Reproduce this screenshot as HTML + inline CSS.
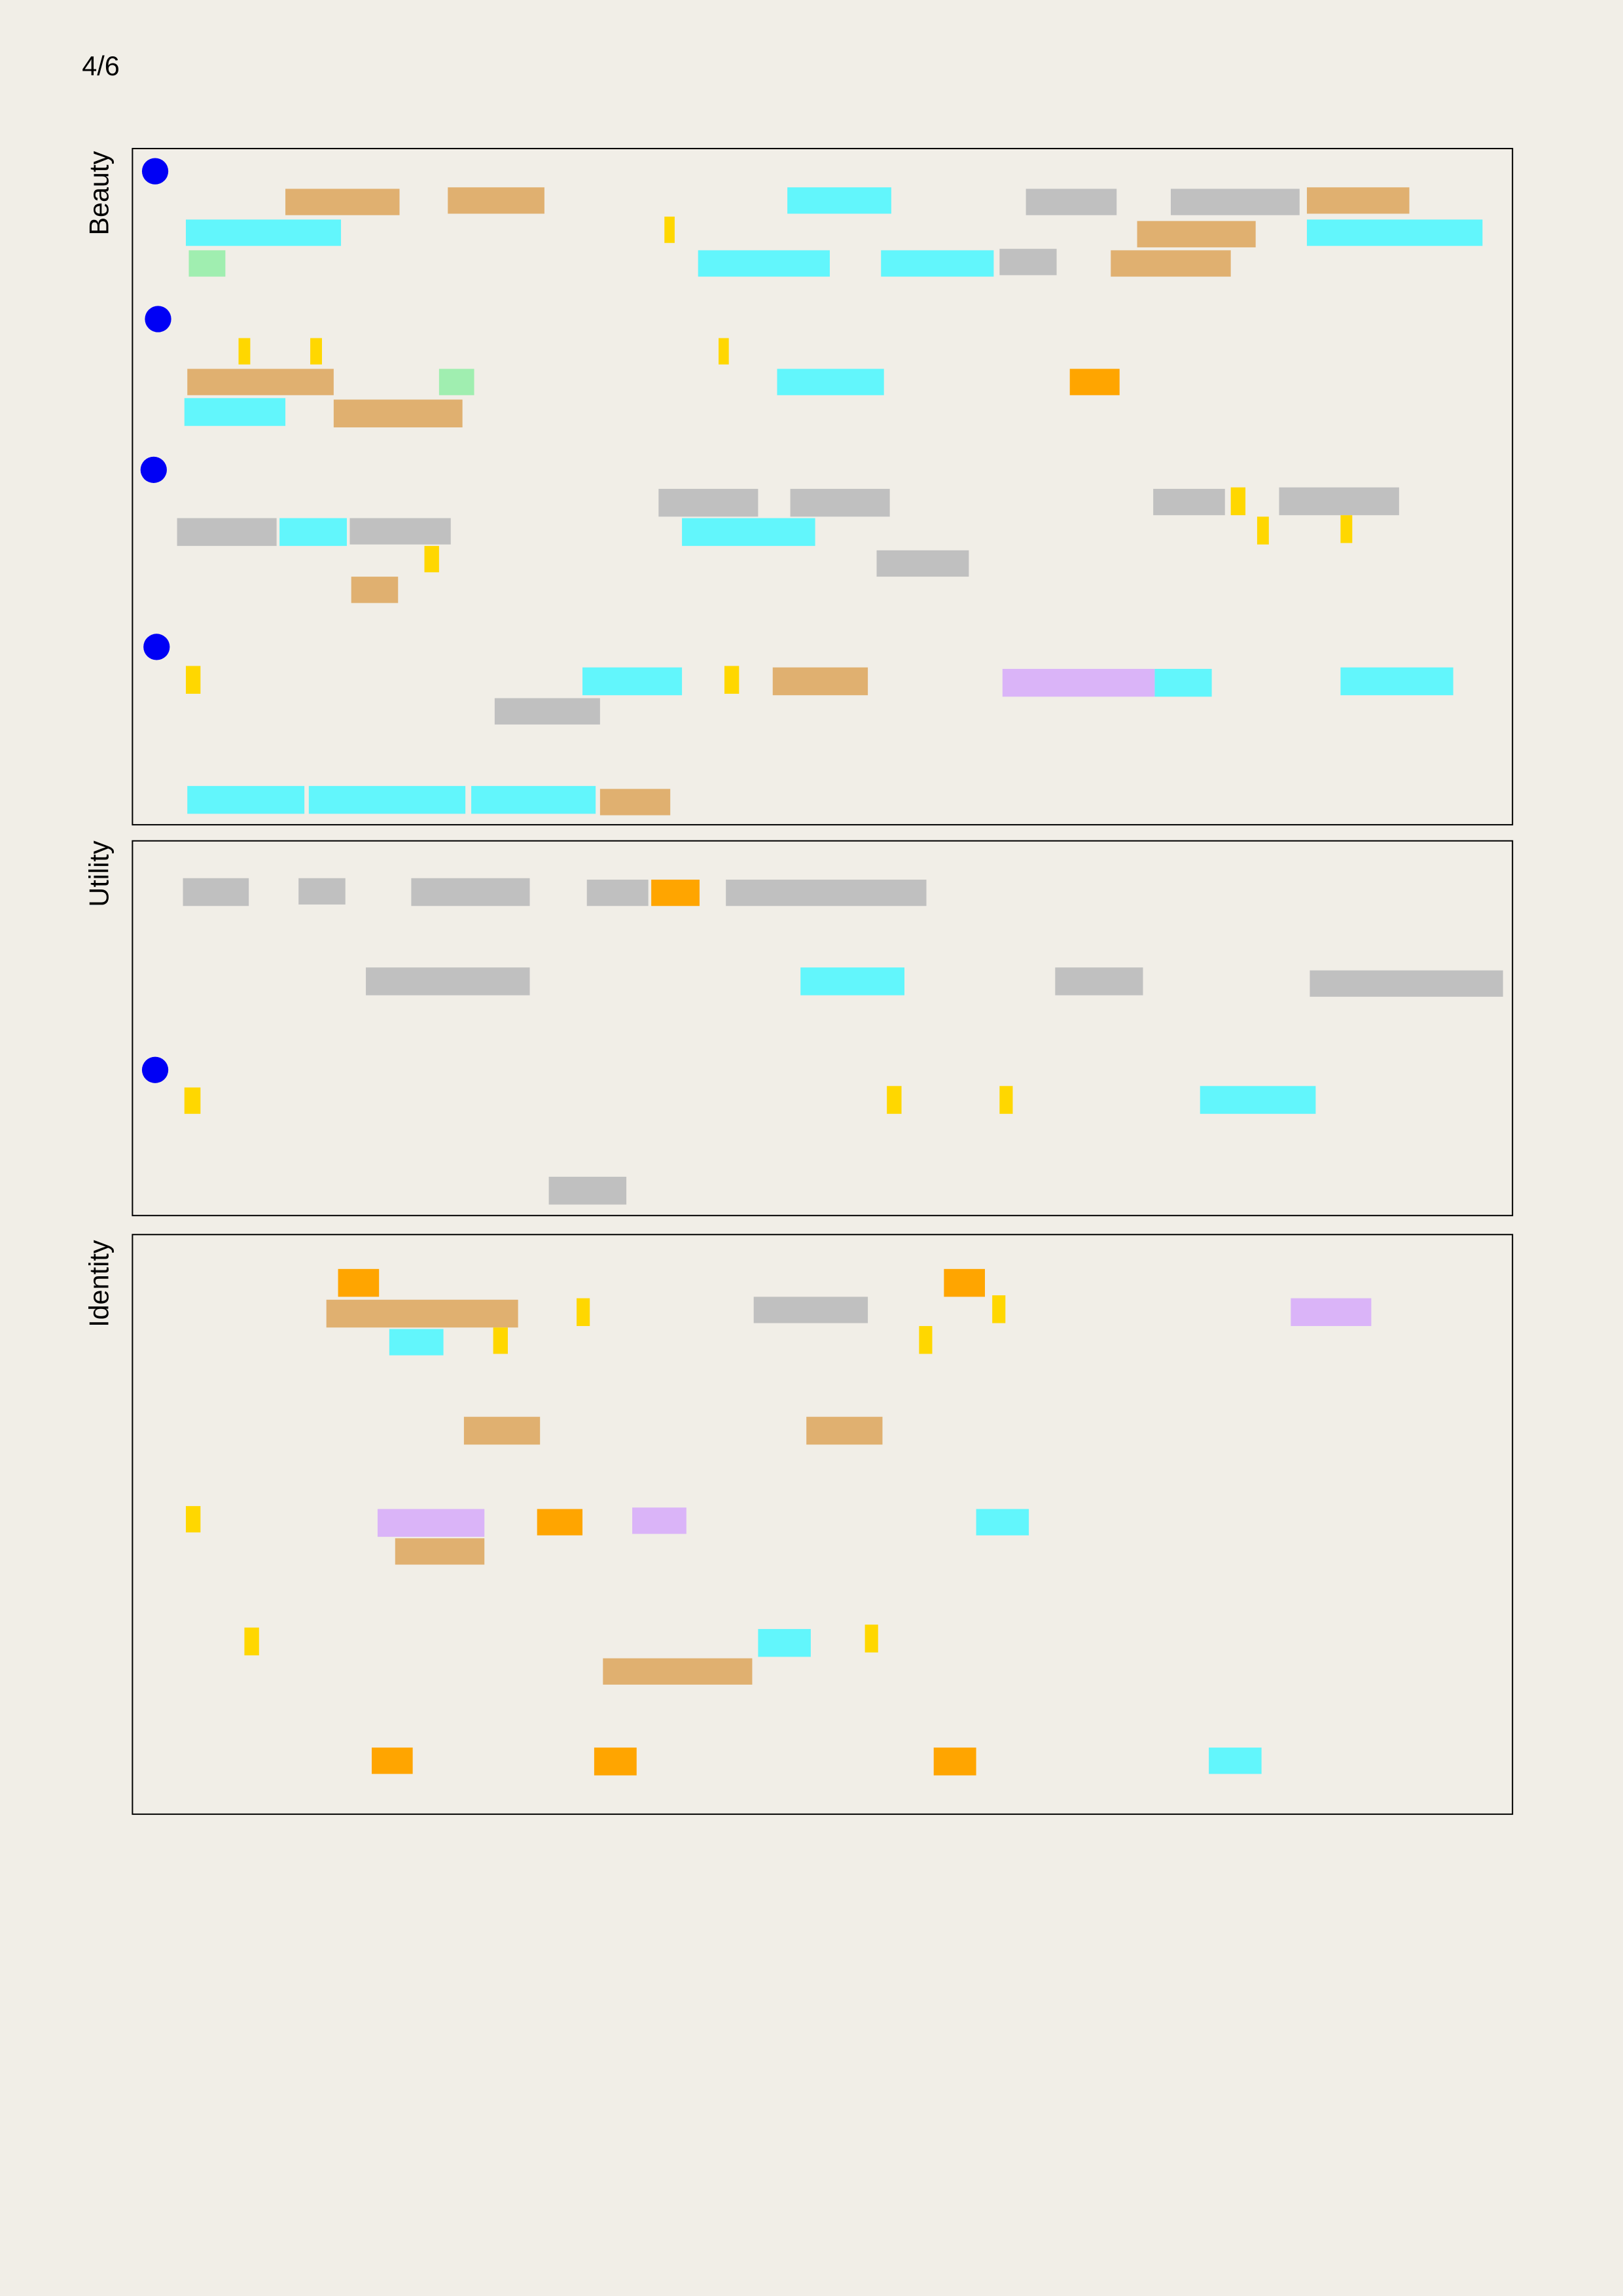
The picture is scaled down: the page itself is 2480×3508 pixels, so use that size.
<!DOCTYPE html>
<html><head><meta charset="utf-8"><style>
html,body{margin:0;padding:0;background:#f1eee7;}
svg{display:block;}
text{font-family:"Liberation Sans",sans-serif;fill:#000;}
</style></head><body>
<svg width="2480" height="3508" viewBox="0 0 1109 1568.7" preserveAspectRatio="none" xmlns="http://www.w3.org/2000/svg">
<rect x="0" y="0" width="1109" height="1569" fill="#f1eee7"/>
<text x="56" y="51.5" font-size="18.5">4/6</text>
<text transform="translate(74,132) rotate(-90)" text-anchor="middle" font-size="18.5">Beauty</text>
<text transform="translate(74,597) rotate(-90)" text-anchor="middle" font-size="18.5">Utility</text>
<text transform="translate(74,877) rotate(-90)" text-anchor="middle" font-size="18.5">Identity</text>
<g fill="none" stroke="#000" stroke-width="0.9">
<rect x="90.5" y="101.5" width="943" height="462"/>
<rect x="90.5" y="574.5" width="943" height="256"/>
<rect x="90.5" y="843.5" width="943" height="396"/>
</g>
<g fill="#0000f5">
<circle cx="106" cy="117" r="9"/><circle cx="108" cy="218" r="9"/><circle cx="105" cy="321" r="9"/><circle cx="107" cy="442" r="9"/><circle cx="106" cy="731" r="9"/>
</g>
<g fill="#e0b070">
<rect x="195" y="129" width="78" height="18"/><rect x="306" y="128" width="66" height="18"/><rect x="893" y="128" width="70" height="18"/><rect x="777" y="151" width="81" height="18"/><rect x="759" y="171" width="82" height="18"/><rect x="128" y="252" width="100" height="18"/><rect x="228" y="273" width="88" height="19"/><rect x="240" y="394" width="32" height="18"/><rect x="528" y="456" width="65" height="19"/><rect x="410" y="539" width="48" height="18"/>
<rect x="223" y="888" width="131" height="19"/><rect x="317" y="968" width="52" height="19"/><rect x="551" y="968" width="52" height="19"/><rect x="270" y="1051" width="61" height="18"/><rect x="412" y="1133" width="102" height="18"/>
</g>
<g fill="#62f6fc">
<rect x="538" y="128" width="71" height="18"/><rect x="127" y="150" width="106" height="18"/><rect x="893" y="150" width="120" height="18"/><rect x="477" y="171" width="90" height="18"/><rect x="602" y="171" width="77" height="18"/><rect x="531" y="252" width="73" height="18"/><rect x="126" y="272" width="69" height="19"/><rect x="191" y="354" width="46" height="19"/><rect x="466" y="354" width="91" height="19"/><rect x="398" y="456" width="68" height="19"/><rect x="789" y="457" width="39" height="19"/><rect x="916" y="456" width="77" height="19"/><rect x="128" y="537" width="80" height="19"/><rect x="211" y="537" width="107" height="19"/><rect x="322" y="537" width="85" height="19"/>
<rect x="547" y="661" width="71" height="19"/><rect x="820" y="742" width="79" height="19"/>
<rect x="266" y="908" width="37" height="18"/><rect x="667" y="1031" width="36" height="18"/><rect x="518" y="1113" width="36" height="19"/><rect x="826" y="1194" width="36" height="18"/>
</g>
<g fill="#c0c0c0">
<rect x="701" y="129" width="62" height="18"/><rect x="800" y="129" width="88" height="18"/><rect x="683" y="170" width="39" height="18"/><rect x="450" y="334" width="68" height="19"/><rect x="540" y="334" width="68" height="19"/><rect x="788" y="334" width="49" height="18"/><rect x="874" y="333" width="82" height="19"/><rect x="121" y="354" width="68" height="19"/><rect x="239" y="354" width="69" height="18"/><rect x="599" y="376" width="63" height="18"/><rect x="338" y="477" width="72" height="18"/>
<rect x="125" y="600" width="45" height="19"/><rect x="204" y="600" width="32" height="18"/><rect x="281" y="600" width="81" height="19"/><rect x="401" y="601" width="42" height="18"/><rect x="496" y="601" width="137" height="18"/><rect x="250" y="661" width="112" height="19"/><rect x="721" y="661" width="60" height="19"/><rect x="895" y="663" width="132" height="18"/><rect x="375" y="804" width="53" height="19"/>
<rect x="515" y="886" width="78" height="18"/>
</g>
<g fill="#a0eeb0"><rect x="129" y="171" width="25" height="18"/><rect x="300" y="252" width="24" height="18"/></g>
<g fill="#ffa500">
<rect x="731" y="252" width="34" height="18"/><rect x="445" y="601" width="33" height="18"/><rect x="231" y="867" width="28" height="19"/><rect x="645" y="867" width="28" height="19"/><rect x="367" y="1031" width="31" height="18"/><rect x="254" y="1194" width="28" height="18"/><rect x="406" y="1194" width="29" height="19"/><rect x="638" y="1194" width="29" height="19"/>
</g>
<g fill="#dab4f8">
<rect x="685" y="457" width="104" height="19"/><rect x="882" y="887" width="55" height="19"/><rect x="258" y="1031" width="73" height="19"/><rect x="432" y="1030" width="37" height="18"/>
</g>
<g fill="#ffd700">
<rect x="454" y="148" width="7" height="18"/><rect x="163" y="231" width="8" height="18"/><rect x="212" y="231" width="8" height="18"/><rect x="491" y="231" width="7" height="18"/><rect x="841" y="333" width="10" height="19"/><rect x="859" y="353" width="8" height="19"/><rect x="916" y="352" width="8" height="19"/><rect x="290" y="373" width="10" height="18"/><rect x="127" y="455" width="10" height="19"/><rect x="495" y="455" width="10" height="19"/>
<rect x="126" y="743" width="11" height="18"/><rect x="606" y="742" width="10" height="19"/><rect x="683" y="742" width="9" height="19"/>
<rect x="394" y="887" width="9" height="19"/><rect x="678" y="885" width="9" height="19"/><rect x="337" y="907" width="10" height="18"/><rect x="628" y="906" width="9" height="19"/><rect x="127" y="1029" width="10" height="18"/><rect x="167" y="1112" width="10" height="19"/><rect x="591" y="1110" width="9" height="19"/>
</g>
</svg>
</body></html>
